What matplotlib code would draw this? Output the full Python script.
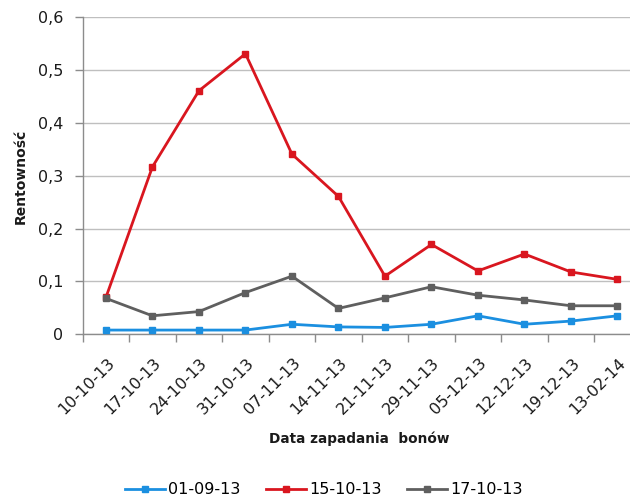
import matplotlib
matplotlib.use("Agg")
import matplotlib.pyplot as plt
import matplotlib.transforms as mtrans
from matplotlib.ticker import FuncFormatter, FixedLocator

dates = ["10-10-13", "17-10-13", "24-10-13", "31-10-13", "07-11-13", "14-11-13",
         "21-11-13", "29-11-13", "05-12-13", "12-12-13", "19-12-13", "13-02-14"]

s_0109 = [0.008, 0.008, 0.008, 0.008, 0.019, 0.014, 0.013, 0.019, 0.035, 0.019, 0.025, 0.035]
s_1510 = [0.070, 0.317, 0.461, 0.531, 0.341, 0.261, 0.110, 0.170, 0.120, 0.152, 0.118, 0.104]
s_1710 = [0.068, 0.035, 0.043, 0.079, 0.110, 0.049, 0.069, 0.090, 0.074, 0.065, 0.054, 0.054]

series_names = ["01-09-13", "15-10-13", "17-10-13"]
colors = ["#1B8FE0", "#D9161F", "#5F5F5F"]

W, H = 630, 497
fig = plt.figure(figsize=(W / 100, H / 100), dpi=100)
left, right_px = 82.7, 640.7
top, bottom = 17.3, 334.3
ax = fig.add_axes([left / W, (H - bottom) / H, (right_px - left) / W, (bottom - top) / H])

x = list(range(len(dates)))
for vals, name, c in zip([s_0109, s_1510, s_1710], series_names, colors):
    ax.plot(x, vals, color=c, lw=2.0, marker="s", ms=5, mec=c, mfc=c, label=name,
            clip_on=False, zorder=3)

ax.set_xlim(-0.5, len(dates) - 0.5)
ax.set_ylim(0, 0.6)
ax.set_yticks([0, 0.1, 0.2, 0.3, 0.4, 0.5, 0.6])
ax.yaxis.set_major_formatter(FuncFormatter(lambda v, p: "0" if v == 0 else f"{v:.1f}".replace(".", ",")))
ax.grid(axis="y", color="#BFBFBF", lw=1.0)
ax.set_axisbelow(True)

# category labels in the middle, tick marks on the boundaries
ax.set_xticks(x)
ax.set_xticklabels(dates, rotation=45, ha="right", va="center", rotation_mode="anchor",
                   fontsize=11.5, color="#1a1a1a")
ax.tick_params(axis="x", which="major", length=0, pad=19)
shift = mtrans.ScaledTranslation(6 / 100, 0, fig.dpi_scale_trans)
for lbl in ax.get_xticklabels():
    lbl.set_transform(lbl.get_transform() + shift)
ax.xaxis.set_minor_locator(FixedLocator([i - 0.5 for i in range(len(dates) + 1)]))
ax.tick_params(axis="x", which="minor", length=6, color="#8C8C8C", width=1)
ax.tick_params(axis="y", length=6, color="#8C8C8C", width=1, labelsize=11.5, pad=8,
               labelcolor="#1a1a1a")

for s in ["top", "right"]:
    ax.spines[s].set_visible(False)
for s in ["left", "bottom"]:
    ax.spines[s].set_color("#8C8C8C")
    ax.spines[s].set_linewidth(1)

fig.text(21 / W, 1 - 176 / H, "Rentowność", rotation=90, ha="center", va="center",
         fontsize=10, fontweight="bold", color="#1a1a1a")
fig.text(359 / W, 1 - 439 / H, "Data zapadania  bonów", ha="center", va="center",
         fontsize=9.8, fontweight="bold", color="#1a1a1a")

leg = fig.legend(loc="center", bbox_to_anchor=(324 / W, 1 - 490 / H), ncol=3,
                 frameon=False, fontsize=11.5, handlelength=2.5, handletextpad=0.2,
                 columnspacing=1.6, borderpad=0, borderaxespad=0)
for h in leg.legend_handles:
    h.set_markersize(4)

fig.savefig("out.png", dpi=100)
